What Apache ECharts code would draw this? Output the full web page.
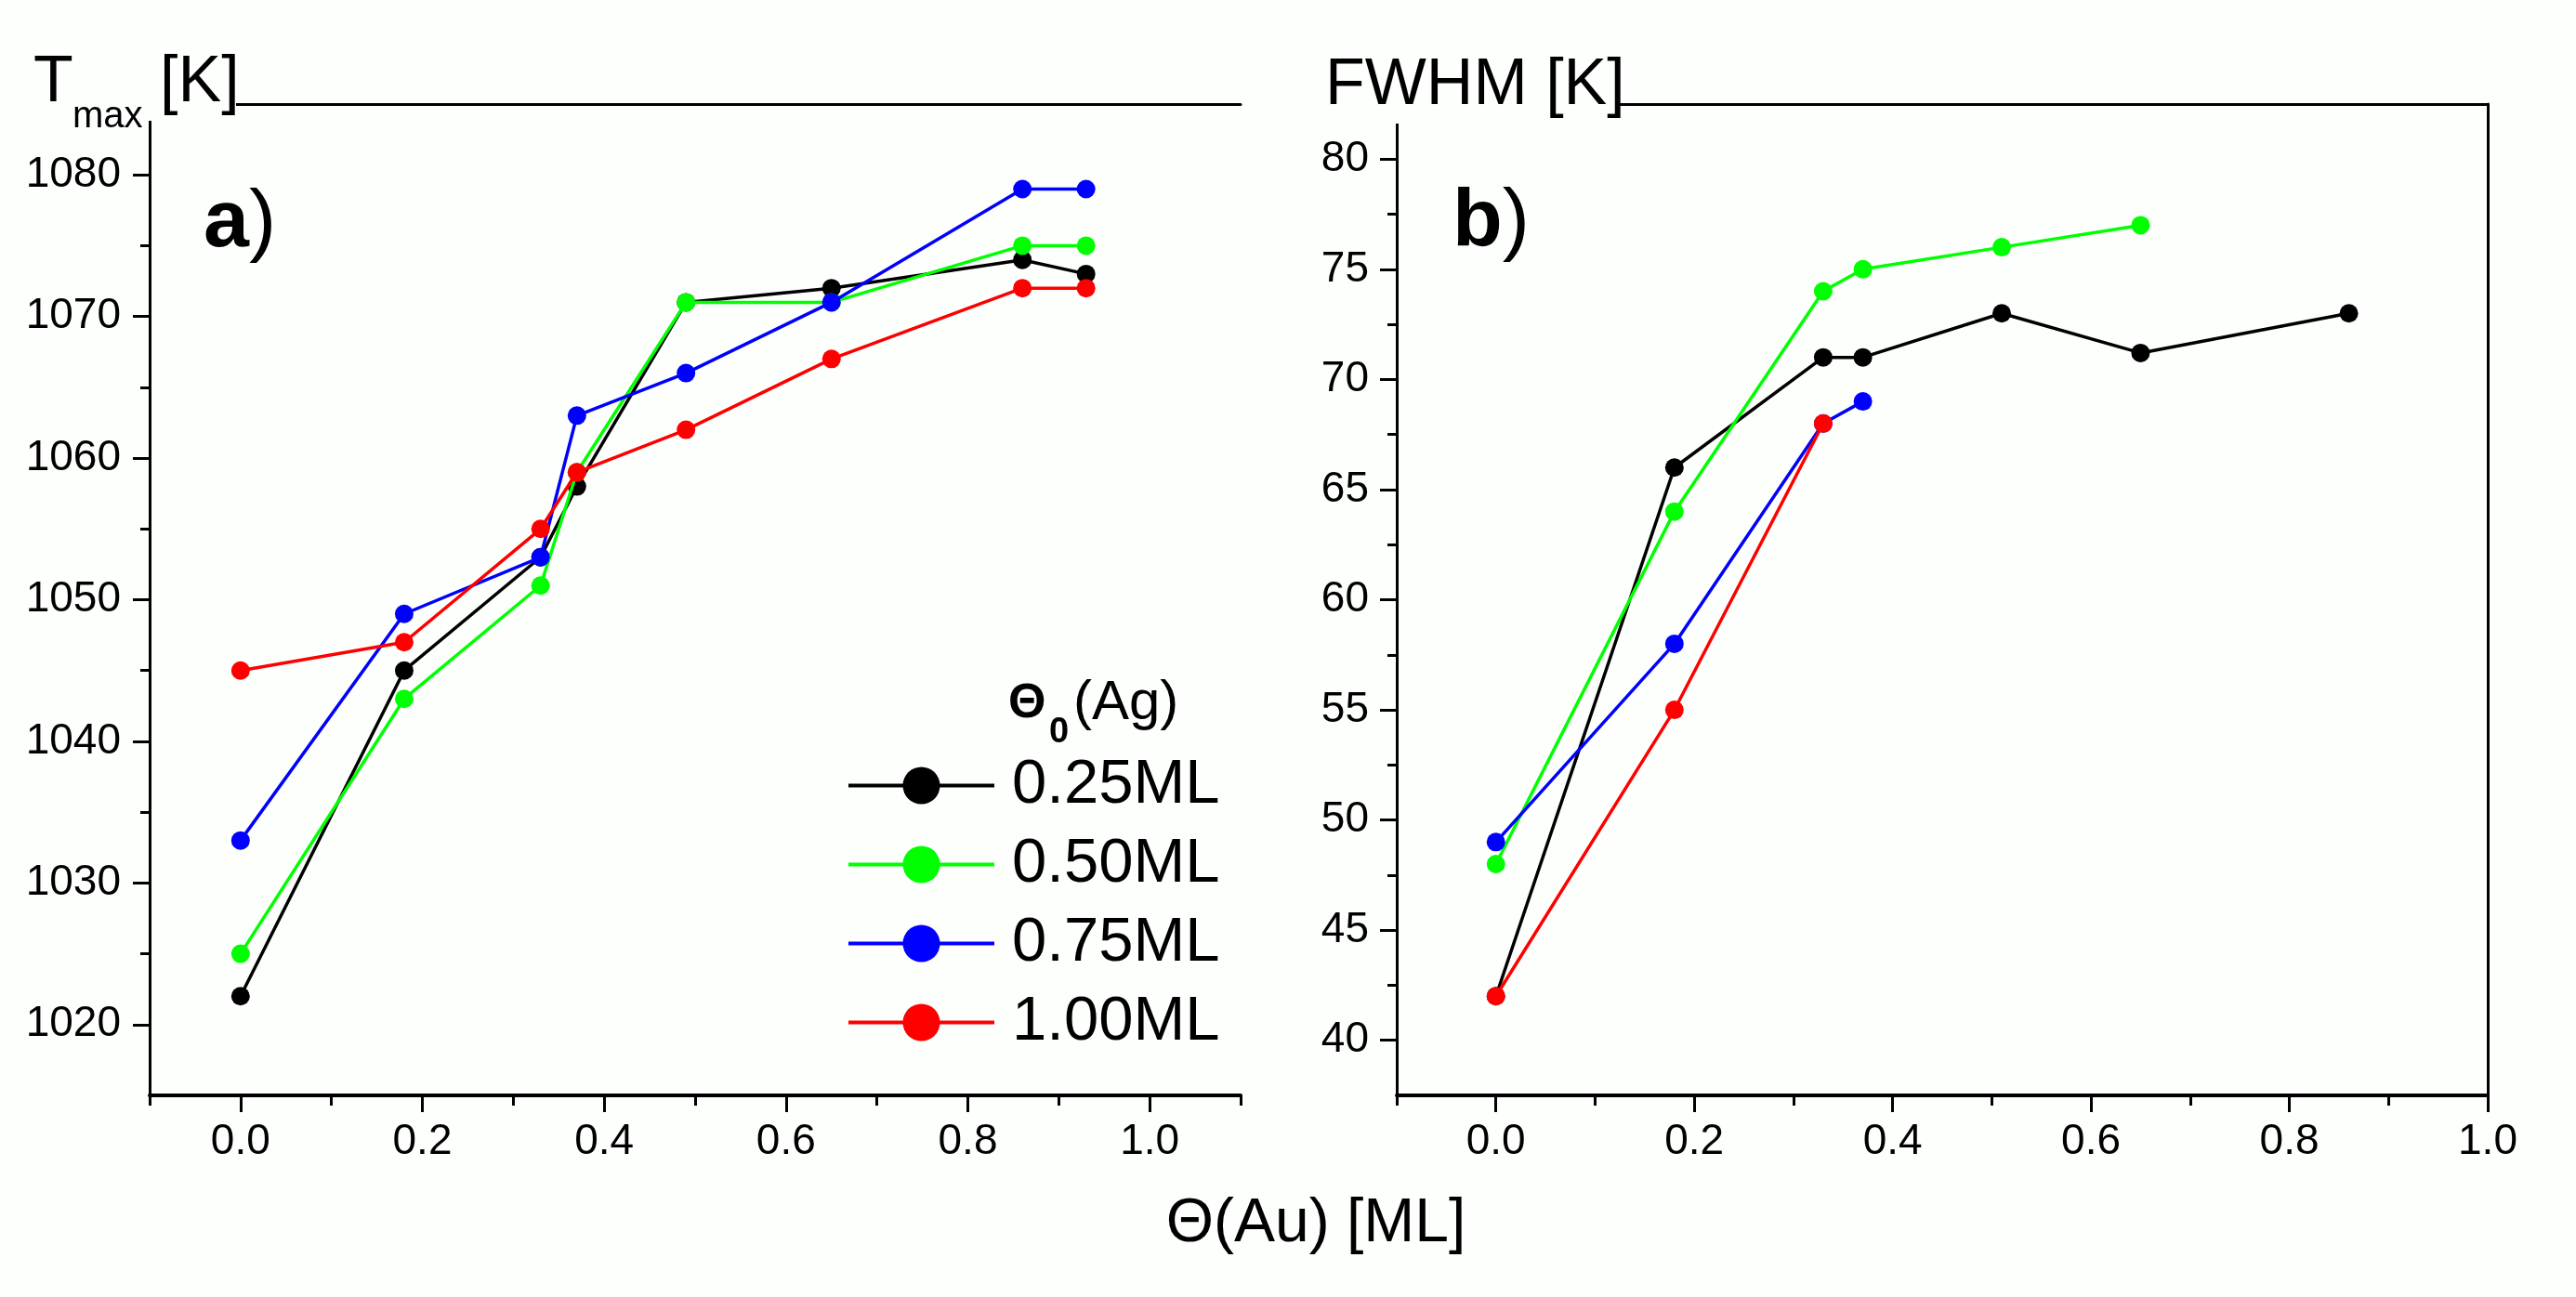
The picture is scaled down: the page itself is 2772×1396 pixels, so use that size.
<!DOCTYPE html>
<html><head><meta charset="utf-8">
<script src="https://cdn.jsdelivr.net/npm/echarts@6/dist/echarts.min.js"></script>
<style>html,body{margin:0;padding:0;background:#fdfffd}#c{width:2772px;height:1396px}</style>
</head><body><div id="c"></div><script>
// ---- data ----
const seriesNames = ['0.25ML', '0.50ML', '0.75ML', '1.00ML'];
const seriesColors = ['#000000', '#00ff00', '#0000ff', '#ff0000'];

// panel a) Tmax vs Theta(Au)
const xA = [0, 0.18, 0.33, 0.37, 0.49, 0.65, 0.86, 0.93];
const tmax025 = [1022, 1045, 1053, 1058, 1071, 1072, 1074, 1073];
const tmax050 = [1025, 1043, 1051, 1059, 1071, 1071, 1075, 1075];
const tmax075 = [1033, 1049, 1053, 1063, 1066, 1071, 1079, 1079];
const tmax100 = [1045, 1047, 1055, 1059, 1062, 1067, 1072, 1072];

// panel b) FWHM vs Theta(Au)
const xB025 = [0, 0.18, 0.33, 0.37, 0.51, 0.65, 0.86];
const fwhm025 = [42, 66, 71, 71, 73, 71.2, 73];
const xB050 = [0, 0.18, 0.33, 0.37, 0.51, 0.65];
const fwhm050 = [48, 64, 74, 75, 76, 77];
const xB075 = [0, 0.18, 0.33, 0.37];
const fwhm075 = [49, 58, 68, 69];
const xB100 = [0, 0.18, 0.33];
const fwhm100 = [42, 55, 68];

// ticks
const xMajorTicks = [0, 0.2, 0.4, 0.6, 0.8, 1.0];
const xMinorTicksA = [-0.1, 0.1, 0.3, 0.5, 0.7, 0.9, 1.1];
const xMinorTicksB = [-0.1, 0.1, 0.3, 0.5, 0.7, 0.9];
const yMajorA = [1020, 1030, 1040, 1050, 1060, 1070, 1080];
const yMinorA = [1025, 1035, 1045, 1055, 1065, 1075];
const yMajorB = [40, 45, 50, 55, 60, 65, 70, 75, 80];
const yMinorB = [42.5, 47.5, 52.5, 57.5, 62.5, 67.5, 72.5, 77.5];

// ---- build ----
const FONT = "'Liberation Sans', Arial, sans-serif";
const BG = '#fdfffd';
const chart = echarts.init(document.getElementById('c'));

function pairs(xs, ys) { return xs.map((x, i) => [x, ys[i]]); }

function xMajor(grid, min, max) {
  return {
    type: 'value', gridIndex: grid, min: min, max: max, position: 'bottom', offset: 0,
    axisLine: { show: true, onZero: false, lineStyle: { color: '#000', width: 4 } },
    axisTick: { show: true, length: 18, customValues: xMajorTicks, lineStyle: { color: '#000', width: 3 } },
    axisLabel: { show: true, customValues: xMajorTicks, fontSize: 46, color: '#000', fontFamily: FONT, margin: 27,
      formatter: v => Number(v).toFixed(1) },
    splitLine: { show: false }
  };
}
function xMinor(grid, min, max, ticks) {
  return {
    type: 'value', gridIndex: grid, min: min, max: max, position: 'bottom', offset: 0,
    axisLine: { show: false, onZero: false },
    axisTick: { show: true, length: 11, customValues: ticks, lineStyle: { color: '#000', width: 3 } },
    axisLabel: { show: false },
    splitLine: { show: false }
  };
}
function xTop(grid, min, max) {
  return {
    type: 'value', gridIndex: grid, min: min, max: max, position: 'top', offset: 0,
    axisLine: { show: true, onZero: false, lineStyle: { color: '#000', width: 3 } },
    axisTick: { show: false }, axisLabel: { show: false }, splitLine: { show: false }
  };
}
function yMajor(grid, min, max, ticks, margin) {
  return {
    type: 'value', gridIndex: grid, min: min, max: max, position: 'left', offset: 0,
    axisLine: { show: true, onZero: false, lineStyle: { color: '#000', width: 3 } },
    axisTick: { show: true, length: 18, customValues: ticks, lineStyle: { color: '#000', width: 3 } },
    axisLabel: { show: true, customValues: ticks, fontSize: 46, color: '#000', fontFamily: FONT, margin: margin,
      formatter: v => String(v) },
    splitLine: { show: false }
  };
}
function yMinor(grid, min, max, ticks) {
  return {
    type: 'value', gridIndex: grid, min: min, max: max, position: 'left', offset: 0,
    axisLine: { show: false, onZero: false },
    axisTick: { show: true, length: 10, customValues: ticks, lineStyle: { color: '#000', width: 3 } },
    axisLabel: { show: false },
    splitLine: { show: false }
  };
}

const aData = [tmax025, tmax050, tmax075, tmax100];
const bX = [xB025, xB050, xB075, xB100];
const bData = [fwhm025, fwhm050, fwhm075, fwhm100];

const series = [];
seriesNames.forEach((name, i) => {
  series.push({
    name: name, type: 'line', xAxisIndex: 0, yAxisIndex: 0,
    data: pairs(xA, aData[i]),
    symbol: 'circle', symbolSize: 20, showSymbol: true,
    lineStyle: { color: seriesColors[i], width: 3.5 },
    itemStyle: { color: seriesColors[i] },
    z: 3 + i
  });
});
seriesNames.forEach((name, i) => {
  series.push({
    name: name, type: 'line', xAxisIndex: 3, yAxisIndex: 2,
    data: pairs(bX[i], bData[i]),
    symbol: 'circle', symbolSize: 20, showSymbol: true,
    lineStyle: { color: seriesColors[i], width: 3.5 },
    itemStyle: { color: seriesColors[i] },
    z: 3 + i
  });
});

function txt(text, x, y, size, opts) {
  return Object.assign({
    type: 'text', z: 101,
    style: Object.assign({ text: text, x: x, y: y, fontSize: size, fontFamily: FONT, fill: '#000',
      verticalAlign: 'middle', align: 'left' }, opts || {})
  });
}

const option = {
  backgroundColor: BG,
  animation: false,
  grid: [
    { left: 161, top: 112, width: 1174, height: 1067, containLabel: false },
    { left: 1503, top: 112, width: 1174, height: 1067, containLabel: false }
  ],
  xAxis: [
    xMajor(0, -0.1, 1.1), xMinor(0, -0.1, 1.1, xMinorTicksA), xTop(0, -0.1, 1.1),
    xMajor(1, -0.1, 1.0), xMinor(1, -0.1, 1.0, xMinorTicksB), xTop(1, -0.1, 1.0)
  ],
  yAxis: [
    yMajor(0, 1015, 1085, yMajorA, 31), yMinor(0, 1015, 1085, yMinorA),
    yMajor(1, 37.5, 82.5, yMajorB, 30), yMinor(1, 37.5, 82.5, yMinorB),
    {
      type: 'value', gridIndex: 1, min: 37.5, max: 82.5, position: 'right', offset: 0,
      axisLine: { show: true, onZero: false, lineStyle: { color: '#000', width: 3 } },
      axisTick: { show: false }, axisLabel: { show: false }, splitLine: { show: false }
    }
  ],
  legend: {
    data: seriesNames, orient: 'vertical', left: 911, top: 812,
    itemWidth: 157, itemHeight: 50, itemGap: 18, padding: 0, selectedMode: false,
    lineStyle: { width: 4 },
    textStyle: { fontSize: 67, color: '#000', fontFamily: FONT, padding: [0, 0, 0, 14] }
  },
  graphic: [
    // title backgrounds (hide axes corner)
    { type: 'rect', z: 100, shape: { x: 0, y: 0, width: 254, height: 130 }, style: { fill: BG } },
    { type: 'rect', z: 100, shape: { x: 1390, y: 0, width: 351, height: 133 }, style: { fill: BG } },
    // Tmax [K]
    txt('T', 36, 90, 70),
    txt('max', 78, 126, 40),
    txt('[K]', 172, 90, 70),
    // FWHM [K]
    txt('FWHM [K]', 1426, 93, 70),
    // panel labels
    txt('{b|a})', 219, 241, 88, { rich: { b: { fontSize: 88, fontWeight: 'bold', fontFamily: FONT } } }),
    txt('{b|b})', 1563, 240, 88, { rich: { b: { fontSize: 88, fontWeight: 'bold', fontFamily: FONT } } }),
    // x axis title
    txt('\u0398(Au) [ML]', 1416, 1318, 66, { align: 'center' }),
    // legend title
    txt('\u0398', 1085, 758, 52, { fontWeight: 'bold' }),
    txt('0', 1129, 789, 38, { fontWeight: 'bold' }),
    txt('(Ag)', 1155, 757, 60)
  ],
  series: series
};
chart.setOption(option);
</script></body></html>
